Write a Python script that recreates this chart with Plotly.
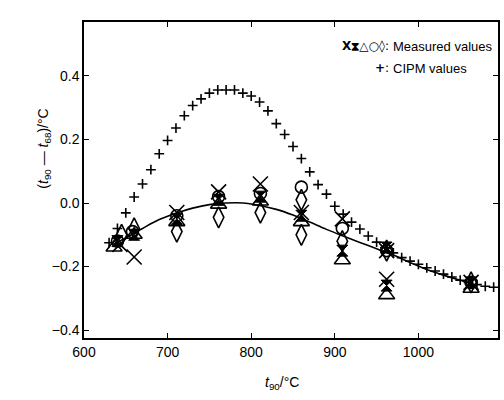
import plotly.graph_objects as go

# CIPM values (every 10 °C)
cipm_t = [630, 640, 650, 660, 670, 680, 690, 700, 710, 720, 730, 740, 750, 760, 770, 780,
          790, 800, 810, 820, 830, 840, 850, 860, 870, 880, 890, 900, 910, 920, 930, 940,
          950, 960, 970, 980, 990, 1000, 1010, 1020, 1030, 1040, 1050, 1060, 1070, 1080, 1090]
cipm_v = [-0.125, -0.08, -0.031, 0.019, 0.06, 0.105, 0.155, 0.197, 0.236, 0.275, 0.307, 0.328,
          0.346, 0.356, 0.356, 0.356, 0.346, 0.337, 0.318, 0.29, 0.25, 0.216, 0.178, 0.14,
          0.098, 0.058, 0.028, -0.01, -0.035, -0.06, -0.082, -0.104, -0.123, -0.14, -0.157,
          -0.172, -0.183, -0.193, -0.204, -0.214, -0.224, -0.233, -0.243, -0.25, -0.257,
          -0.262, -0.265]

# fitted curve through measured values
fit_t = [635, 650, 670, 690, 710, 730, 750, 770, 790, 810, 830, 850, 870, 890, 910, 930,
         950, 970, 990, 1010, 1030, 1050, 1065]
fit_v = [-0.13, -0.11, -0.08, -0.052, -0.032, -0.016, -0.005, 0.0, 0.0, -0.008, -0.02,
         -0.038, -0.06, -0.083, -0.104, -0.124, -0.144, -0.164, -0.187, -0.209, -0.227,
         -0.243, -0.254]

# measured values (five symbols)
cross_t = [643, 660, 711, 761, 811, 860, 909, 962, 962, 1063]
cross_v = [-0.13, -0.17, -0.03, 0.035, 0.06, -0.03, -0.05, -0.15, -0.24, -0.25]
hour_t = [640, 660, 711, 761, 811, 860, 909, 962, 962, 1063]
hour_v = [-0.12, -0.10, -0.05, 0.01, 0.02, -0.04, -0.15, -0.14, -0.26, -0.25]
tri_t = [636, 660, 711, 761, 811, 860, 909, 962, 1063]
tri_v = [-0.14, -0.10, -0.06, -0.005, 0.005, -0.06, -0.18, -0.29, -0.27]
circ_t = [640, 658, 711, 761, 811, 860, 909, 962, 1063]
circ_v = [-0.12, -0.09, -0.04, 0.02, 0.03, 0.05, -0.08, -0.15, -0.25]
diam_t = [645, 660, 711, 761, 811, 860, 860, 909, 962, 1063]
diam_v = [-0.10, -0.08, -0.09, -0.045, -0.03, 0.01, -0.10, -0.12, -0.15, -0.25]

x_ticks = [600, 700, 800, 900, 1000]
y_ticks = [-0.4, -0.2, 0.0, 0.2, 0.4]
y_ticktext = ["\u22120.4", "\u22120.2", "0.0", "0.2", "0.4"]

fig = go.Figure()
fig.add_trace(go.Scatter(x=fit_t, y=fit_v, mode="lines",
                         line=dict(color="black", width=1.6, shape="spline")))
fig.add_trace(go.Scatter(x=cipm_t, y=cipm_v, mode="markers",
                         marker=dict(symbol="cross-thin-open", size=7, color="black",
                                     line=dict(color="black", width=1.6))))
fig.add_trace(go.Scatter(x=tri_t, y=tri_v, mode="markers",
                         marker=dict(symbol="triangle-up-open", size=14, color="black",
                                     line=dict(color="black", width=1.6))))
fig.add_trace(go.Scatter(x=circ_t, y=circ_v, mode="markers",
                         marker=dict(symbol="circle-open", size=12, color="black",
                                     line=dict(color="black", width=1.6))))
fig.add_trace(go.Scatter(x=diam_t, y=diam_v, mode="markers",
                         marker=dict(symbol="diamond-tall-open", size=15, color="black",
                                     line=dict(color="black", width=1.6))))
fig.add_trace(go.Scatter(x=hour_t, y=hour_v, mode="markers",
                         marker=dict(symbol="hourglass", size=11, color="black",
                                     line=dict(color="black", width=1))))
fig.add_trace(go.Scatter(x=cross_t, y=cross_v, mode="markers",
                         marker=dict(symbol="x-thin-open", size=15, color="black",
                                     line=dict(color="black", width=1.6))))

font = "Liberation Sans, Arial, sans-serif"
fig.update_layout(
    width=504, height=400,
    margin=dict(l=84, r=4, t=22, b=62),
    paper_bgcolor="white", plot_bgcolor="white",
    showlegend=False,
    font=dict(family=font, size=13, color="black"),
    xaxis=dict(range=[600, 1095.2], tickvals=x_ticks, ticks="inside", ticklen=5,
               tickwidth=1.2, tickcolor="black", showgrid=False, zeroline=False,
               showline=True, linecolor="black", linewidth=1.5, mirror="ticks",
               tickfont=dict(size=14)),
    yaxis=dict(range=[-0.425, 0.570], tickvals=y_ticks, ticktext=y_ticktext,
               ticks="inside", ticklen=5, tickwidth=1.2, tickcolor="black",
               showgrid=False, zeroline=False, showline=True, linecolor="black",
               linewidth=1.5, mirror="ticks", tickfont=dict(size=14)),
)

# axis titles
fig.add_annotation(xref="paper", yref="paper", x=0.478, y=-0.142, xanchor="center",
                   yanchor="middle", showarrow=False,
                   text="<i>t</i><sub>90</sub>/°C", font=dict(size=14))
fig.add_annotation(xref="paper", yref="paper", x=-0.096, y=0.60, xanchor="center",
                   yanchor="middle", showarrow=False, textangle=-90,
                   text="(<i>t</i><sub>90</sub> \u2014 <i>t</i><sub>68</sub>)/°C",
                   font=dict(size=14))

# legend text
sym_font = "DejaVu Sans, sans-serif"
fig.add_annotation(xref="paper", yref="paper", x=0.742, y=0.924, xanchor="right",
                   yanchor="middle", showarrow=False,
                   text="<b>X\u29d7\u25b3\u25cb\u25ca</b>:", font=dict(size=12, family=sym_font))
fig.add_annotation(xref="paper", yref="paper", x=0.742, y=0.924, xanchor="left",
                   yanchor="middle", showarrow=False, text="Measured values",
                   font=dict(size=13))
fig.add_annotation(xref="paper", yref="paper", x=0.742, y=0.854, xanchor="right",
                   yanchor="middle", showarrow=False, text="<b>+</b>:",
                   font=dict(size=12, family=sym_font))
fig.add_annotation(xref="paper", yref="paper", x=0.742, y=0.854, xanchor="left",
                   yanchor="middle", showarrow=False, text="CIPM values",
                   font=dict(size=13))

fig.write_html("out.html")
